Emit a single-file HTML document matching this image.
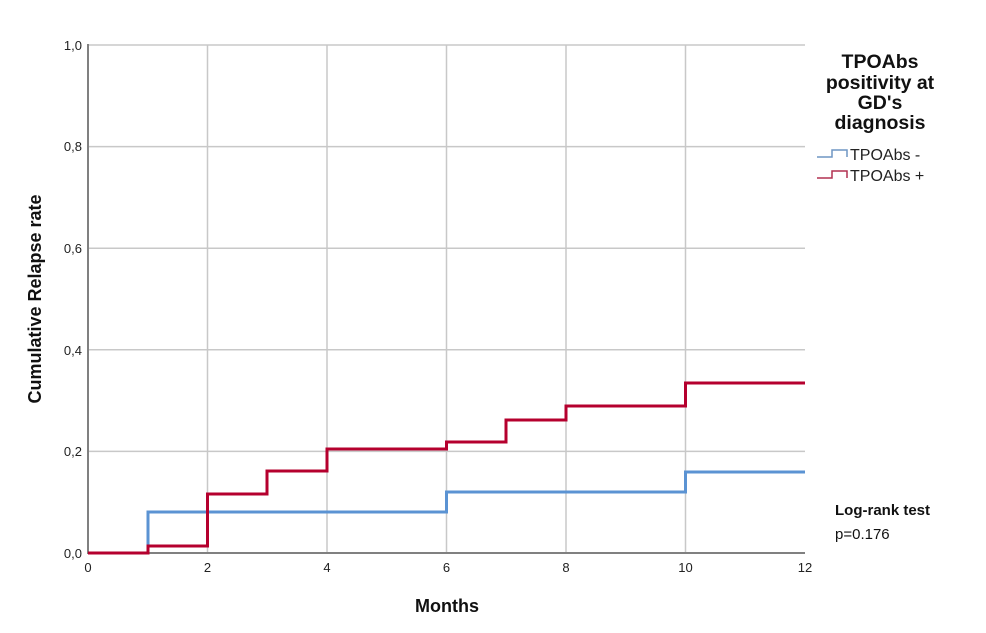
<!DOCTYPE html>
<html><head><meta charset="utf-8"><style>
html,body{margin:0;padding:0;background:#fff;}
svg{display:block;}
text{font-family:"Liberation Sans",Arial,sans-serif;}
</style></head><body>
<svg width="986" height="633" viewBox="0 0 986 633">
<g stroke="#c8c8c8" stroke-width="1.5" fill="none">
<line x1="207.5" y1="45" x2="207.5" y2="553"/>
<line x1="327" y1="45" x2="327" y2="553"/>
<line x1="446.5" y1="45" x2="446.5" y2="553"/>
<line x1="566" y1="45" x2="566" y2="553"/>
<line x1="685.5" y1="45" x2="685.5" y2="553"/>
<line x1="88" y1="45" x2="805" y2="45"/>
<line x1="88" y1="146.6" x2="805" y2="146.6"/>
<line x1="88" y1="248.2" x2="805" y2="248.2"/>
<line x1="88" y1="349.8" x2="805" y2="349.8"/>
<line x1="88" y1="451.4" x2="805" y2="451.4"/>
</g>
<g stroke="#808080" stroke-width="2" fill="none">
<line x1="88" y1="44" x2="88" y2="554"/>
<line x1="87" y1="553" x2="805" y2="553"/>
</g>
<g font-size="13" fill="#222" text-anchor="end">
<text x="82" y="50">1,0</text>
<text x="82" y="151">0,8</text>
<text x="82" y="253">0,6</text>
<text x="82" y="355">0,4</text>
<text x="82" y="456">0,2</text>
<text x="82" y="558">0,0</text>
</g>
<g font-size="13" fill="#222" text-anchor="middle">
<text x="88" y="572">0</text>
<text x="207.5" y="572">2</text>
<text x="327" y="572">4</text>
<text x="446.5" y="572">6</text>
<text x="566" y="572">8</text>
<text x="685.5" y="572">10</text>
<text x="805" y="572">12</text>
</g>
<text x="447" y="612" font-size="18" font-weight="bold" text-anchor="middle" fill="#111">Months</text>
<text transform="translate(41,299) rotate(-90)" font-size="18" font-weight="bold" text-anchor="middle" fill="#111">Cumulative Relapse rate</text>
<polyline fill="none" stroke="#5b93d3" stroke-width="3" points="88,553 148,553 148,512 446.5,512 446.5,492 685.5,492 685.5,472 805,472"/>
<polyline fill="none" stroke="#b5002e" stroke-width="3" points="88,553 148,553 148,546 207.5,546 207.5,494 267,494 267,471 327,471 327,449 446.5,449 446.5,442 506,442 506,420 566,420 566,406 685.5,406 685.5,383 805,383"/>
<g font-size="19.5" font-weight="bold" text-anchor="middle" fill="#111">
<text x="880" y="68">TPOAbs</text>
<text x="880" y="89">positivity at</text>
<text x="880" y="109">GD's</text>
<text x="880" y="129">diagnosis</text>
</g>
<polyline fill="none" stroke="#6f95c4" stroke-width="1.5" points="817,157 832,157 832,150 847,150 847,157"/>
<polyline fill="none" stroke="#b23050" stroke-width="1.5" points="817,178 832,178 832,171 847,171 847,178"/>
<g font-size="16" fill="#222">
<text x="850" y="160">TPOAbs -</text>
<text x="850" y="181">TPOAbs +</text>
</g>
<text x="835" y="515" font-size="15" font-weight="bold" fill="#111">Log-rank test</text>
<text x="835" y="539" font-size="15" fill="#111">p=0.176</text>
</svg>
</body></html>
